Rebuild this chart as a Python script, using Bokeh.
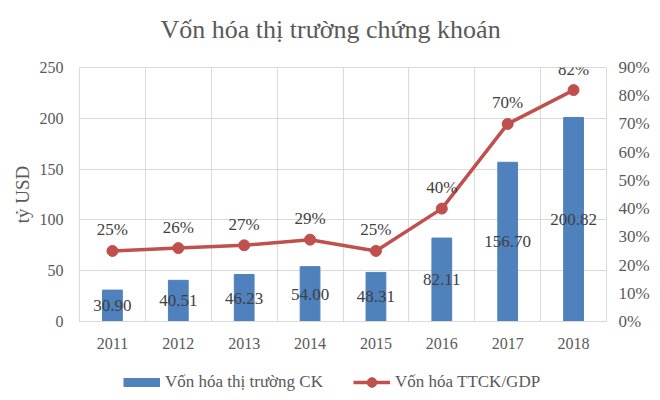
from bokeh.plotting import figure
from bokeh.layouts import column
from bokeh.models import (Range1d, LinearAxis, FixedTicker, NumeralTickFormatter,
                          Legend, LegendItem, ColumnDataSource, Title)
from bokeh.core.properties import value
from bokeh.embed import file_html
from bokeh.resources import INLINE

years = ["2011", "2012", "2013", "2014", "2015", "2016", "2017", "2018"]
market_cap = [30.90, 40.51, 46.23, 54.00, 48.31, 82.11, 156.70, 200.82]
cap_to_gdp = [0.25, 0.26, 0.27, 0.29, 0.25, 0.40, 0.70, 0.82]
left_ticks = [0, 50, 100, 150, 200, 250]
right_ticks = [0, 0.1, 0.2, 0.3, 0.4, 0.5, 0.6, 0.7, 0.8, 0.9]
series_names = ["Vốn hóa thị trường CK", "Vốn hóa TTCK/GDP"]
chart_title = "Vốn hóa thị trường chứng khoán"

FONT = "Liberation Serif"
TXT = "#595959"
BLUE = "#4f81bd"
RED = "#c0504d"
GRID = "#d9d9d9"

xs = [i + 0.5 for i in range(len(years))]
src = ColumnDataSource(dict(
    x=xs, cap=market_cap, half=[v / 2 for v in market_cap],
    cap_lbl=[f"{v:.2f}" for v in market_cap],
    pct=cap_to_gdp, pct_lbl=[f"{round(v * 100)}%" for v in cap_to_gdp],
))

p = figure(width=660, height=364, output_backend="svg",
           toolbar_location=None, x_range=Range1d(0, len(years)),
           y_range=Range1d(0, 250),
           min_border_left=79, min_border_right=54, min_border_top=67,
           min_border_bottom=43, title=chart_title)
p.extra_y_ranges = {"pct": Range1d(0, 0.9)}

# real title (outermost) with a small spacer panel between it and the frame
p.title.align = "left"
p.title.offset = 81
p.title.standoff = 10
p.title.text_font = FONT
p.title.text_font_size = "26px"
p.title.text_font_style = "normal"
p.title.text_color = TXT
spacer = Title(text=" ", text_font_size="10px", standoff=6)
p.add_layout(spacer, "above")

p.outline_line_color = GRID
p.background_fill_color = "white"
p.border_fill_color = "white"

# x axis
xa = p.xaxis[0]
xa.ticker = FixedTicker(ticks=xs)
xa.major_label_overrides = {x: y for x, y in zip(xs, years)}
xa.axis_line_color = GRID
xa.major_tick_line_color = None
xa.minor_tick_line_color = None
xa.major_label_standoff = 10
xa.major_label_text_font = FONT
xa.major_label_text_font_size = "16px"
xa.major_label_text_color = TXT

# left axis
ya = p.yaxis[0]
ya.ticker = FixedTicker(ticks=left_ticks)
ya.axis_line_color = None
ya.major_tick_line_color = None
ya.minor_tick_line_color = None
ya.major_label_standoff = 10
ya.major_label_text_font = FONT
ya.major_label_text_font_size = "16px"
ya.major_label_text_color = TXT
ya.axis_label = "tỷ USD"
ya.axis_label_text_font = FONT
ya.axis_label_text_font_size = "19px"
ya.axis_label_text_font_style = "normal"
ya.axis_label_text_color = TXT
ya.axis_label_standoff = 4

# right axis
ra = LinearAxis(y_range_name="pct", ticker=FixedTicker(ticks=right_ticks),
                formatter=NumeralTickFormatter(format="0%"))
ra.axis_line_color = None
ra.major_tick_line_color = None
ra.minor_tick_line_color = None
ra.major_label_standoff = 6
ra.major_label_text_font = FONT
ra.major_label_text_font_size = "17px"
ra.major_label_text_color = TXT
p.add_layout(ra, "right")

# grids
p.xgrid.ticker = FixedTicker(ticks=list(range(len(years) + 1)))
p.xgrid.grid_line_color = GRID
p.ygrid.ticker = FixedTicker(ticks=left_ticks)
p.ygrid.grid_line_color = GRID

p.vbar(x="x", top="cap", width=0.3, source=src, fill_color=BLUE,
       line_color=BLUE)
p.text(x="x", y="half", text="cap_lbl", source=src, text_align="center",
       text_baseline="middle", text_font=value(FONT), text_font_size="17px",
       text_color="#404040")

p.line(x="x", y="pct", source=src, y_range_name="pct", line_color=RED,
       line_width=3.5)
p.scatter(x="x", y="pct", source=src, y_range_name="pct", size=11,
          fill_color=RED, line_color=RED)
p.text(x="x", y="pct", text="pct_lbl", source=src, y_range_name="pct",
       y_offset=-21, text_align="center", text_baseline="middle",
       text_font=value(FONT), text_font_size="17px", text_color="#404040")

# legend strip below the chart (its frame is aligned with the chart frame)
lg = figure(width=660, height=36, output_backend="svg", toolbar_location=None,
            x_range=Range1d(0, 1), y_range=Range1d(0, 1),
            min_border_left=0, min_border_right=0, min_border_top=0,
            min_border_bottom=0, x_axis_type=None, y_axis_type=None)
lg.grid.visible = False
lg.outline_line_color = None
lg.background_fill_color = "white"
lg.border_fill_color = "white"

sw_bar = lg.line(x=[float("nan")], y=[float("nan")], line_color=BLUE,
                 line_width=9, line_cap="butt")
sw_line = lg.line(x=[float("nan")], y=[float("nan")], line_color=RED,
                  line_width=3.5)
sw_dot = lg.scatter(x=[float("nan")], y=[float("nan")], fill_color=RED,
                    line_color=RED)

legend = Legend(items=[
    LegendItem(label=series_names[0], renderers=[sw_bar]),
    LegendItem(label=series_names[1], renderers=[sw_line, sw_dot]),
], orientation="horizontal", location=(44, 6))
legend.glyph_width = 37
legend.glyph_height = 24
legend.label_standoff = 5
legend.spacing = 30
legend.padding = 0
legend.margin = 0
legend.border_line_color = None
legend.background_fill_alpha = 0
legend.label_text_font = FONT
legend.label_text_font_size = "17px"
legend.label_text_color = TXT
lg.add_layout(legend)

layout = column(p, lg, spacing=0)
open("out.html", "w").write(file_html(layout, INLINE))
